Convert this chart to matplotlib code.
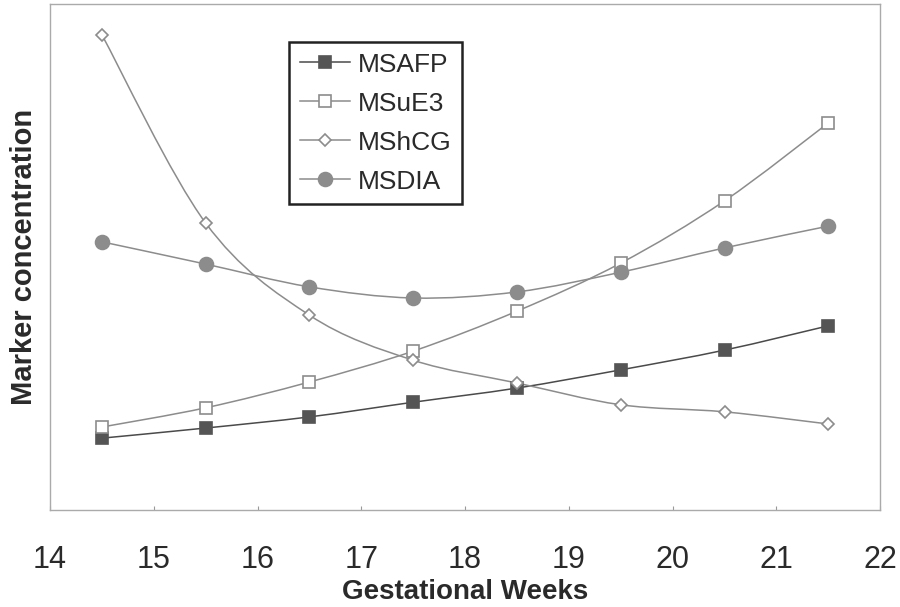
import matplotlib
matplotlib.use("Agg")
import matplotlib.pyplot as plt
from matplotlib.path import Path
from matplotlib.patches import PathPatch
from matplotlib.lines import Line2D

# data (arbitrary units)
weeks = [14.5, 15.5, 16.5, 17.5, 18.5, 19.5, 20.5, 21.5]
msafp = [14.2, 16.2, 18.4, 21.3, 24.1, 27.7, 31.6, 36.4]
msue3 = [16.4, 20.2, 25.3, 31.4, 39.3, 48.8, 61.1, 76.5]
mshcg = [93.9, 56.7, 38.5, 29.6, 25.1, 20.8, 19.4, 17.0]
msdia = [53.0, 48.6, 44.1, 41.9, 43.1, 47.0, 51.8, 56.1]
xticks = [14, 15, 16, 17, 18, 19, 20, 21, 22]

plt.rcParams['font.family'] = ['Liberation Sans', 'DejaVu Sans']


def smooth_path(x, y):
    # catmull-rom through the points, as bezier segments
    pts = list(zip(x, y))
    n = len(pts)
    verts = [pts[0]]
    codes = [Path.MOVETO]
    for i in range(n - 1):
        p0 = pts[i - 1] if i > 0 else pts[i]
        p1 = pts[i]
        p2 = pts[i + 1]
        p3 = pts[i + 2] if i + 2 < n else pts[i + 1]
        c1 = (p1[0] + (p2[0] - p0[0]) / 6, p1[1] + (p2[1] - p0[1]) / 6)
        c2 = (p2[0] - (p3[0] - p1[0]) / 6, p2[1] - (p3[1] - p1[1]) / 6)
        verts += [c1, c2, p2]
        codes += [Path.CURVE4] * 3
    return Path(verts, codes)


fig = plt.figure(figsize=(9, 6.07), dpi=100)
ax = fig.add_axes([0.0556, 0.1598, 0.9224, 0.8336])

series = [
    ('MSAFP', msafp, '#4a4a4a', 's', '#555555', '#555555', 9),
    ('MSuE3', msue3, '#8c8c8c', 's', 'white', '#8c8c8c', 8),
    ('MShCG', mshcg, '#8c8c8c', 'D', 'white', '#8c8c8c', 6.5),
    ('MSDIA', msdia, '#8c8c8c', 'o', '#8c8c8c', '#8c8c8c', 10),
]

handles = []
for name, vals, lc, mk, mfc, mec, ms in series:
    ax.add_patch(PathPatch(smooth_path(weeks, vals), fill=False,
                           edgecolor=lc, lw=1.1, zorder=2))
    ax.plot(weeks, vals, linestyle='none', marker=mk, ms=ms,
            mfc=mfc, mec=mec, mew=1.2, zorder=3)
    handles.append(Line2D([], [], color=lc, lw=1.1, marker=mk, ms=ms,
                          mfc=mfc, mec=mec, mew=1.2, label=name))

ax.set_xlim(14, 22)
ax.set_ylim(0, 100)
ax.set_xticks(xticks)
ax.set_yticks([])
ax.tick_params(axis='x', direction='in', length=3, color='#999999',
               labelsize=22, pad=25, labelcolor='#2a2a2a')
for s in ax.spines.values():
    s.set_color('#aaaaaa')
    s.set_linewidth(1.0)

ax.set_xlabel('Gestational Weeks', fontsize=20, fontweight='bold',
              color='#2a2a2a', labelpad=3)
ax.set_ylabel('Marker concentration', fontsize=21, fontweight='bold',
              color='#2a2a2a', labelpad=9)

leg = ax.legend(handles=handles, loc='upper left',
                bbox_to_anchor=(0.288, 0.925), borderaxespad=0,
                fontsize=19, handlelength=1.9, handletextpad=0.3,
                labelspacing=0.57, borderpad=0.4, fancybox=False,
                framealpha=1, edgecolor='#222222')
leg.get_frame().set_linewidth(1.8)
for t in leg.get_texts():
    t.set_color('#2a2a2a')

fig.savefig('out.png', dpi=100)
